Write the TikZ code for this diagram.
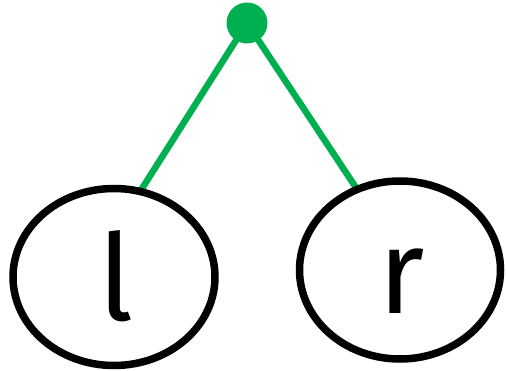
\documentclass[tikz,border=0pt]{standalone}
\usepackage{fontspec}
\setmainfont{Fira Sans}
\usetikzlibrary{shapes.geometric,backgrounds}
\definecolor{edgegreen}{HTML}{00B050}
\begin{document}
\begin{tikzpicture}[x=1pt,y=-1pt,
  leaf/.style={ellipse, draw=black, line width=7.5pt, fill=white, inner sep=0pt, outer sep=0pt},
  glyph/.style={anchor=base, inner sep=0pt, font=\fontsize{120}{120}\selectfont},
  edge/.style={draw=edgegreen, line width=6.5pt},
  dot/.style={circle, fill=edgegreen, inner sep=0pt, minimum size=41pt}]
\useasboundingbox (0,0) rectangle (506,371);
\node[dot] (root) at (247,23) {};
\node[leaf, minimum width=202pt, minimum height=177pt] (l) at (114,277) {};
\node[leaf, minimum width=201pt, minimum height=178pt] (r) at (400,270) {};
\node[glyph] (lt) at (116,320) {l};
\node[glyph] (rt) at (402,313) {r};
\begin{scope}[on background layer]
\draw[edge] (root.center) -- (l.73);
\draw[edge] (root.center) -- (r.118);
\end{scope}
\end{tikzpicture}
\end{document}
